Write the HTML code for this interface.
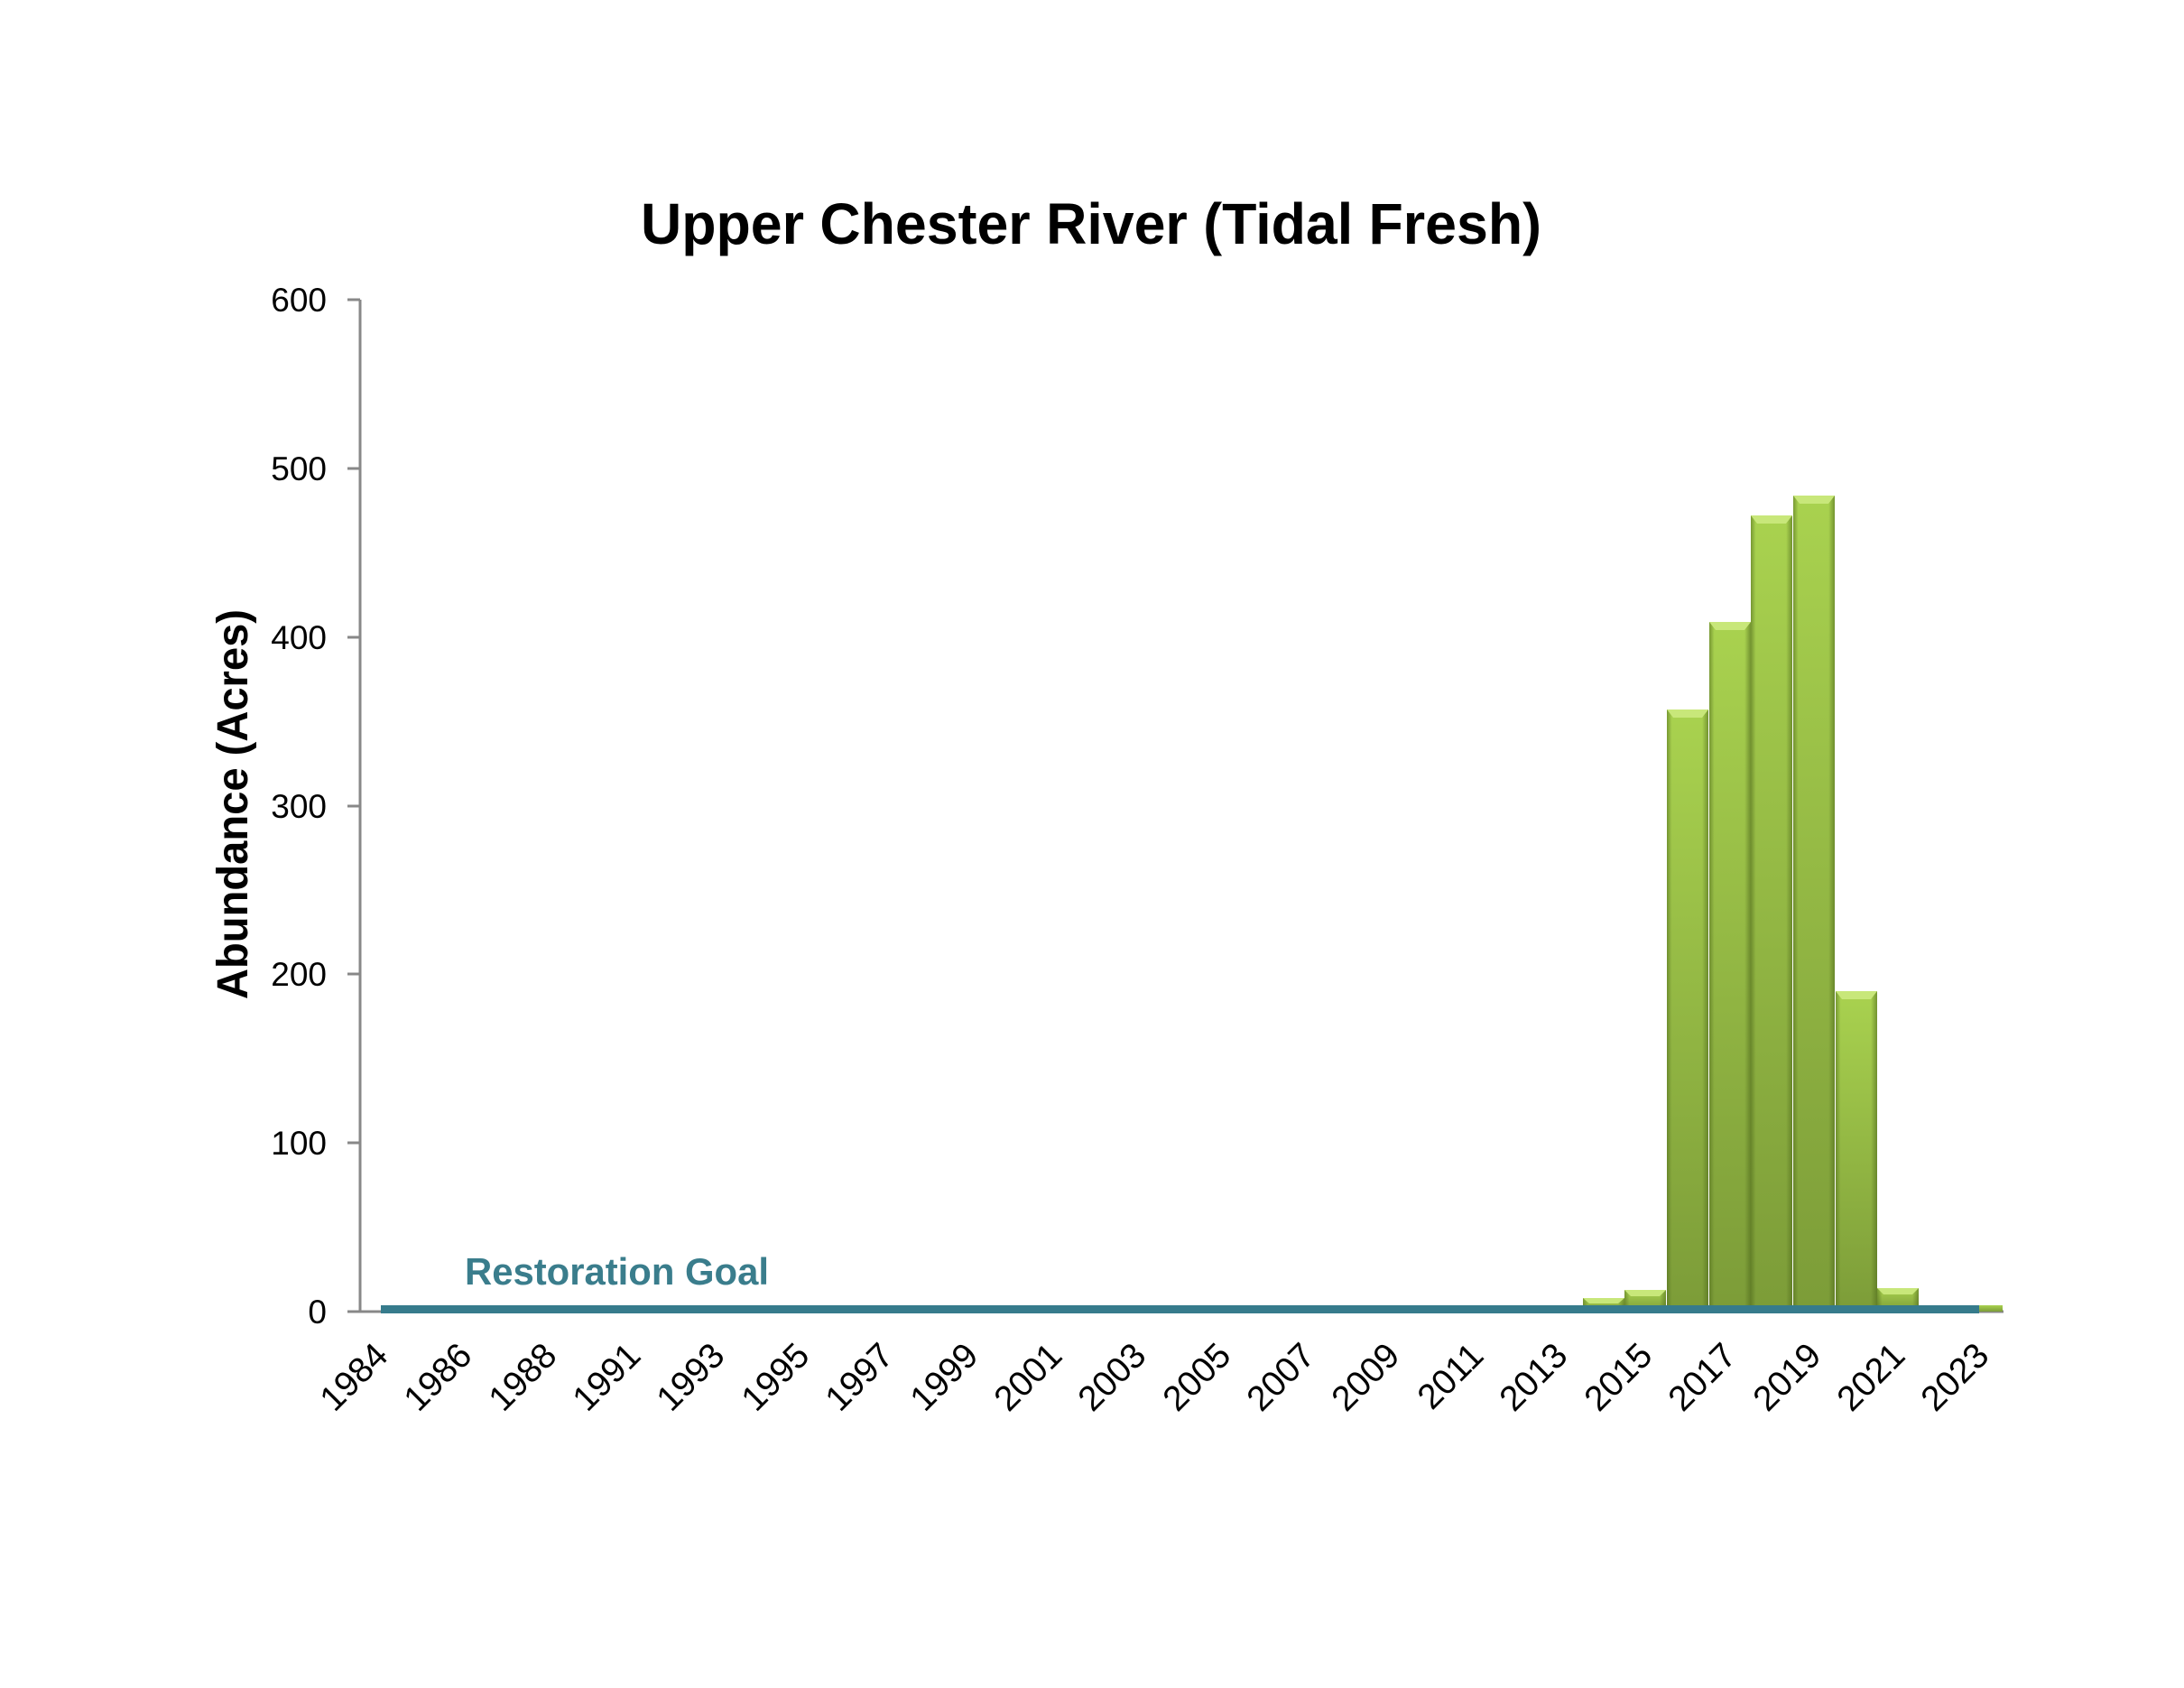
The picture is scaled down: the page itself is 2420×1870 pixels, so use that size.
<!DOCTYPE html>
<html><head><meta charset="utf-8"><style>html,body{margin:0;padding:0;background:#fff}svg{display:block}</style></head>
<body>
<svg width="2420" height="1870" viewBox="0 0 2420 1870" xmlns="http://www.w3.org/2000/svg" font-family="Liberation Sans, sans-serif">
<defs>
<linearGradient id="gv" x1="0" y1="0" x2="0" y2="1">
<stop offset="0" stop-color="#a9d24f"/><stop offset="1" stop-color="#7c9c38"/>
</linearGradient>
<linearGradient id="gh" x1="0" y1="0" x2="1" y2="0">
<stop offset="0" stop-color="#4f6a1c" stop-opacity="0.55"/>
<stop offset="0.12" stop-color="#4f6a1c" stop-opacity="0"/>
<stop offset="0.85" stop-color="#4f6a1c" stop-opacity="0"/>
<stop offset="1" stop-color="#4f6a1c" stop-opacity="0.6"/>
</linearGradient>
</defs>
<rect width="2420" height="1870" fill="#fff"/>
<text x="1209" y="270" font-size="64" font-weight="bold" text-anchor="middle" textLength="998" lengthAdjust="spacingAndGlyphs">Upper Chester River (Tidal Fresh)</text>
<text transform="translate(274,891) rotate(-90)" font-size="48" font-weight="bold" text-anchor="middle" textLength="432" lengthAdjust="spacingAndGlyphs">Abundance (Acres)</text>
<g font-size="37" text-anchor="end" fill="#000">
<text x="362" y="345">600</text>
<text x="362" y="532">500</text>
<text x="362" y="719">400</text>
<text x="362" y="906">300</text>
<text x="362" y="1092">200</text>
<text x="362" y="1279">100</text>
<text x="362" y="1466">0</text>
</g>
<g stroke="#888" stroke-width="3">
<line x1="399" y1="332" x2="399" y2="1453"/>
<line x1="385" y1="332" x2="399" y2="332"/>
<line x1="385" y1="519" x2="399" y2="519"/>
<line x1="385" y1="706" x2="399" y2="706"/>
<line x1="385" y1="893" x2="399" y2="893"/>
<line x1="385" y1="1079" x2="399" y2="1079"/>
<line x1="385" y1="1266" x2="399" y2="1266"/>
<line x1="385" y1="1453" x2="2220" y2="1453"/>
</g>
<g>
<rect x="1754" y="1438" width="46" height="15" fill="url(#gv)"/>
<rect x="1800" y="1429" width="46" height="24" fill="url(#gv)"/>
<rect x="1847" y="786" width="46" height="667" fill="url(#gv)"/>
<rect x="1894" y="689" width="46" height="764" fill="url(#gv)"/>
<rect x="1940" y="571" width="46" height="882" fill="url(#gv)"/>
<rect x="1987" y="549" width="46" height="904" fill="url(#gv)"/>
<rect x="2034" y="1098" width="46" height="355" fill="url(#gv)"/>
<rect x="2080" y="1427" width="46" height="26" fill="url(#gv)"/>
<rect x="2127" y="1446" width="46" height="7" fill="url(#gv)"/>
<rect x="2174" y="1446" width="45" height="7" fill="url(#gv)"/>
</g>
<g>
<rect x="1754" y="1438" width="46" height="15" fill="url(#gh)"/>
<rect x="1800" y="1429" width="46" height="24" fill="url(#gh)"/>
<rect x="1847" y="786" width="46" height="667" fill="url(#gh)"/>
<rect x="1894" y="689" width="46" height="764" fill="url(#gh)"/>
<rect x="1940" y="571" width="46" height="882" fill="url(#gh)"/>
<rect x="1987" y="549" width="46" height="904" fill="url(#gh)"/>
<rect x="2034" y="1098" width="46" height="355" fill="url(#gh)"/>
<rect x="2080" y="1427" width="46" height="26" fill="url(#gh)"/>
</g>
<g fill="#c8e77a">
<polygon points="1847,786 1893,786 1886,795 1854,795"/>
<polygon points="1894,689 1940,689 1933,698 1901,698"/>
<polygon points="1940,571 1986,571 1979,580 1947,580"/>
<polygon points="1987,549 2033,549 2026,558 1994,558"/>
<polygon points="2034,1098 2080,1098 2073,1107 2041,1107"/>
<polygon points="1754,1438 1800,1438 1793,1444 1761,1444"/>
<polygon points="1800,1429 1846,1429 1839,1436 1807,1436"/>
<polygon points="2080,1427 2126,1427 2119,1434 2087,1434"/>
</g>
<rect x="422" y="1446" width="1771" height="9" fill="#367b8c"/>
<text x="515" y="1423" font-size="42" font-weight="bold" fill="#3a7d8c" textLength="337" lengthAdjust="spacingAndGlyphs">Restoration Goal</text>
<g font-size="39" text-anchor="end" fill="#000">
<text transform="translate(432,1504) rotate(-45)">1984</text>
<text transform="translate(525,1504) rotate(-45)">1986</text>
<text transform="translate(619,1504) rotate(-45)">1988</text>
<text transform="translate(712,1504) rotate(-45)">1991</text>
<text transform="translate(805,1504) rotate(-45)">1993</text>
<text transform="translate(899,1504) rotate(-45)">1995</text>
<text transform="translate(992,1504) rotate(-45)">1997</text>
<text transform="translate(1086,1504) rotate(-45)">1999</text>
<text transform="translate(1179,1504) rotate(-45)">2001</text>
<text transform="translate(1272,1504) rotate(-45)">2003</text>
<text transform="translate(1366,1504) rotate(-45)">2005</text>
<text transform="translate(1459,1504) rotate(-45)">2007</text>
<text transform="translate(1553,1504) rotate(-45)">2009</text>
<text transform="translate(1646,1504) rotate(-45)">2011</text>
<text transform="translate(1739,1504) rotate(-45)">2013</text>
<text transform="translate(1833,1504) rotate(-45)">2015</text>
<text transform="translate(1926,1504) rotate(-45)">2017</text>
<text transform="translate(2020,1504) rotate(-45)">2019</text>
<text transform="translate(2113,1504) rotate(-45)">2021</text>
<text transform="translate(2206,1504) rotate(-45)">2023</text>
</g>
</svg>
</body></html>
